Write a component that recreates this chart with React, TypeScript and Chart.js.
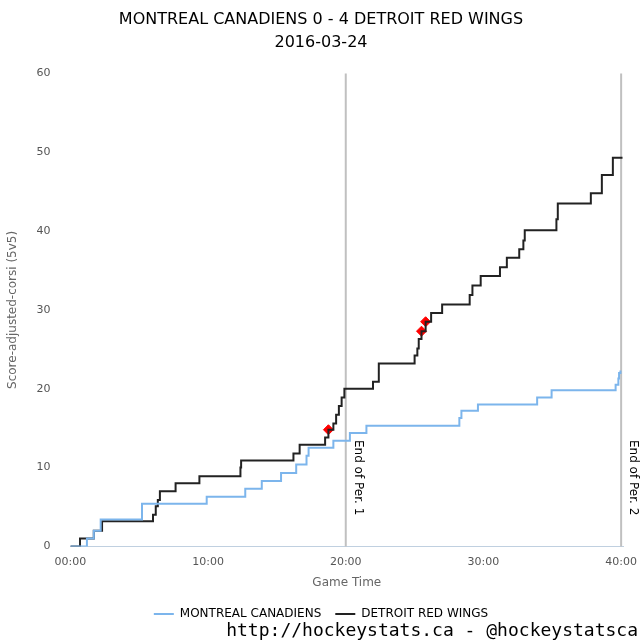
import React, { useEffect, useRef } from "react";
import { Chart, registerables } from "chart.js";
Chart.register(...registerables);

const mtlTimes = [0, 1.2, 1.7, 2.2, 5.2, 9.9, 12.7, 13.9, 15.3, 16.4, 17.15, 17.3, 19.1, 20.3, 21.5, 28.25, 28.4, 29.6, 33.9, 34.95, 39.6, 39.8, 39.85, 39.95];
const mtlValues = [0, 1, 2, 3.4, 5.4, 6.3, 7.3, 8.3, 9.3, 10.4, 11.5, 12.5, 13.4, 14.4, 15.3, 16.3, 17.2, 18.0, 18.9, 19.8, 20.5, 21.3, 22.0, 22.3];
const detTimes = [0, 0.7, 1.7, 2.3, 6.0, 6.2, 6.35, 6.5, 7.64, 9.37, 12.35, 12.4, 16.2, 16.65, 18.5, 18.74, 19.1, 19.3, 19.5, 19.7, 19.9, 20.0, 21.98, 22.4, 25.0, 25.2, 25.3, 25.5, 25.8, 26.2, 27.0, 29.0, 29.2, 29.8, 31.2, 31.7, 32.6, 32.9, 33.0, 35.3, 35.4, 37.8, 38.6, 39.4, 40.1];
const detValues = [0, 1, 2, 3.2, 4.0, 5.1, 5.9, 7.0, 8.0, 8.9, 10.0, 10.9, 11.8, 12.9, 13.8, 14.8, 15.6, 16.7, 17.8, 18.9, 20.0, 20.0, 20.9, 23.2, 24.2, 25.1, 26.3, 27.3, 28.5, 29.6, 30.7, 31.9, 33.1, 34.3, 35.4, 36.6, 37.7, 38.8, 40.1, 41.5, 43.5, 44.8, 47.1, 49.3, 49.3];
const goalTimes = [18.74, 25.5, 25.8];
const goalValues = [14.8, 27.3, 28.5];
const periodEnds = [20, 40];
const periodLabels = ["End of Per. 1", "End of Per. 2"];
const xTicks = [0, 10, 20, 30, 40];

const fmt = (v: number) => String(Math.floor(v)).padStart(2, "0") + ":00";

export default function App() {
  const ref = useRef<HTMLCanvasElement>(null);
  useEffect(() => {
    const periodPlugin = {
      id: "periods",
      beforeDatasetsDraw(chart: any) {
        const { ctx, chartArea, scales } = chart;
        ctx.save();
        periodEnds.forEach((p, i) => {
          const x = scales.x.getPixelForValue(p);
          ctx.strokeStyle = "#c0c0c0";
          ctx.lineWidth = 2;
          ctx.beginPath();
          ctx.moveTo(x, chartArea.top);
          ctx.lineTo(x, chartArea.bottom);
          ctx.stroke();
          ctx.save();
          ctx.translate(x + 4, scales.y.getPixelForValue(13.5));
          ctx.rotate(Math.PI / 2);
          ctx.fillStyle = "#000";
          ctx.font = "12px 'DejaVu Sans'";
          ctx.textBaseline = "top";
          ctx.fillText(periodLabels[i], 0, -14);
          ctx.restore();
        });
        ctx.restore();
      },
      afterDraw(chart: any) {
        const { ctx } = chart;
        ctx.save();
        ctx.fillStyle = "#000";
        ctx.font = "18px 'DejaVu Sans Mono'";
        ctx.textAlign = "right";
        ctx.textBaseline = "alphabetic";
        ctx.fillText("http://hockeystats.ca - @hockeystatsca", 638, 636);
        ctx.restore();
      },
    };
    const chart = new Chart(ref.current!, {
      type: "line",
      data: {
        datasets: [
          {
            label: "MONTREAL CANADIENS",
            data: mtlTimes.map((t, i) => ({ x: t, y: mtlValues[i] })),
            borderColor: "#7cb5ec",
            backgroundColor: "#7cb5ec",
            borderWidth: 2,
            stepped: "before",
            pointRadius: 0,
          },
          {
            label: "DETROIT RED WINGS",
            data: detTimes.map((t, i) => ({ x: t, y: detValues[i] })),
            borderColor: "#222",
            backgroundColor: "#222",
            borderWidth: 2,
            stepped: "before",
            pointRadius: 0,
          },
          {
            label: "goals",
            data: goalTimes.map((t, i) => ({ x: t, y: goalValues[i] })),
            showLine: false,
            pointStyle: "rectRot",
            pointRadius: 5,
            backgroundColor: "#ff0000",
            borderColor: "#ff0000",
          },
        ],
      },
      options: {
        animation: false,
        responsive: false,
        layout: { padding: { left: 2, right: 0, top: 0, bottom: 10 } },
        plugins: {
          title: {
            display: true,
            text: ["MONTREAL CANADIENS 0 - 4 DETROIT RED WINGS", "2016-03-24"],
            color: "#000",
            font: { family: "'DejaVu Sans'", size: 16, weight: "normal", lineHeight: 1.45 },
            padding: { top: 8, bottom: 19 },
          },
          legend: {
            position: "bottom",
            labels: {
              filter: (it: any) => it.text !== "goals",
              boxWidth: 20,
              boxHeight: 0,
              color: "#000",
              font: { family: "'DejaVu Sans'", size: 12 },
              padding: 14,
            },
          },
          tooltip: { enabled: false },
        },
        scales: {
          x: {
            type: "linear",
            min: 0,
            max: 40.15,
            afterBuildTicks: (s: any) => { s.ticks = xTicks.map((v) => ({ value: v })); },
            ticks: { callback: (v: any) => fmt(v), color: "#555", font: { family: "'DejaVu Sans'", size: 11 }, maxRotation: 0 },
            grid: { display: false, drawTicks: true, tickLength: 6 },
            border: { color: "#c0d0e0" },
            title: { display: true, text: "Game Time", color: "#666", font: { family: "'DejaVu Sans'", size: 12 } },
          },
          y: {
            min: 0,
            max: 60,
            ticks: { stepSize: 10, color: "#555", font: { family: "'DejaVu Sans'", size: 11 }, padding: 12 },
            grid: { display: false },
            border: { display: false },
            title: { display: true, text: "Score-adjusted-corsi (5v5)", color: "#666", font: { family: "'DejaVu Sans'", size: 12 } },
          },
        },
      },
      plugins: [periodPlugin],
    } as any);
    return () => chart.destroy();
  }, []);
  return (
    <div style={{ position: "fixed", left: 0, top: 0, width: 640, height: 640, background: "#fff" }}>
      <canvas ref={ref} width={640} height={640} />
    </div>
  );
}
